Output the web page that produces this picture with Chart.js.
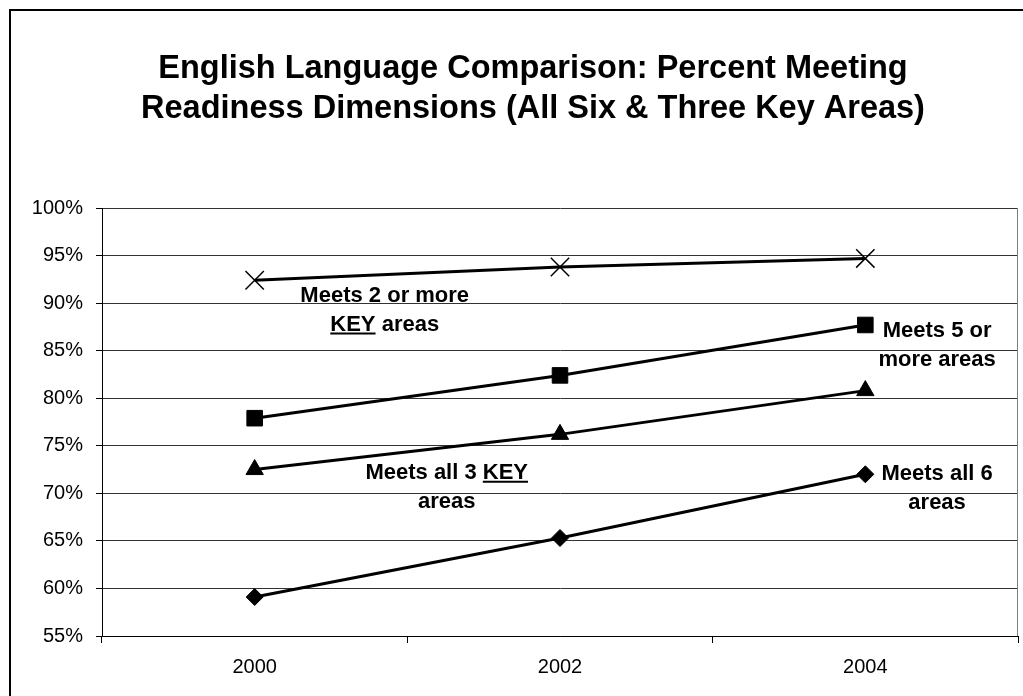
<!DOCTYPE html>
<html>
<head>
<meta charset="utf-8">
<script src="https://cdn.jsdelivr.net/npm/chart.js@4/dist/chart.umd.min.js"></script>
<style>
  body { margin: 0; background: #fff; }
  #wrap { width: 1023px; height: 696px; position: relative; }
</style>
</head>
<body>
<div id="wrap"><canvas id="myChart"></canvas></div>
<script>
const years = ["2000", "2002", "2004"];
const twoKeyAreas = [92.4, 93.8, 94.7];
const fiveAreas = [77.9, 82.4, 87.7];
const threeKeyAreas = [72.5, 76.2, 80.8];
const allSixAreas = [59.1, 65.3, 72.0];
const yMin = 55;
const yMax = 100;
const yStep = 5;

const titleLines = [
  "English Language Comparison: Percent Meeting",
  "Readiness Dimensions (All Six & Three Key Areas)",
];

const FONT = "'Liberation Sans', Arial, sans-serif";

// text labels placed next to the lines, anchored in scale units
const lineLabels = [
  { x: 0.426, y: 91.0, lines: ["Meets 2 or more", "KEY areas"], underline: "KEY" },
  { x: 2.235, y: 87.25, lines: ["Meets 5 or", "more areas"] },
  { x: 0.629, y: 72.37, lines: ["Meets all 3 KEY", "areas"], underline: "KEY" },
  { x: 2.235, y: 72.24, lines: ["Meets all 6", "areas"] },
];

const framePlugin = {
  id: "frame",
  beforeDraw(chart) {
    const ctx = chart.ctx;
    ctx.save();
    ctx.fillStyle = "#000";
    ctx.fillRect(9, 9, 2, chart.height);
    ctx.fillRect(9, 9, chart.width, 2);

    // two-line heading
    ctx.font = "bold 32.5px " + FONT;
    ctx.textAlign = "center";
    ctx.textBaseline = "middle";
    titleLines.forEach(function (t, i) {
      ctx.fillText(t, 533, 69 + i * 40);
    });
    ctx.restore();
  },
  afterDraw(chart) {
    const ctx = chart.ctx;
    const area = chart.chartArea;
    const xs = chart.scales.x;
    const ys = chart.scales.y;
    ctx.save();
    // right edge of the plot area
    ctx.strokeStyle = "#808080";
    ctx.lineWidth = 1;
    ctx.beginPath();
    ctx.moveTo(Math.round(area.right) - 0.5, area.top);
    ctx.lineTo(Math.round(area.right) - 0.5, area.bottom);
    ctx.stroke();

    ctx.font = "bold 22px " + FONT;
    ctx.fillStyle = "#000";
    ctx.strokeStyle = "#000";
    ctx.textAlign = "left";
    ctx.textBaseline = "alphabetic";
    lineLabels.forEach(function (lab) {
      const cx = xs.getPixelForValue(lab.x);
      const cy = ys.getPixelForValue(lab.y);
      lab.lines.forEach(function (text, i) {
        const w = ctx.measureText(text).width;
        const left = cx - w / 2;
        const base = cy + 8 + i * 29;
        ctx.fillText(text, left, base);
        if (lab.underline && text.indexOf(lab.underline) >= 0) {
          const pre = text.slice(0, text.indexOf(lab.underline));
          const ux = left + ctx.measureText(pre).width;
          const uw = ctx.measureText(lab.underline).width;
          ctx.lineWidth = 2;
          ctx.beginPath();
          ctx.moveTo(ux, base + 3);
          ctx.lineTo(ux + uw, base + 3);
          ctx.stroke();
        }
      });
    });
    ctx.restore();
  },
};

function series(data, style, radius, borderWidth) {
  return {
    data: data,
    borderColor: "#000",
    backgroundColor: "#000",
    borderWidth: 3,
    tension: 0,
    fill: false,
    pointStyle: style,
    pointRadius: radius,
    pointBorderWidth: borderWidth,
    pointBorderColor: "#000",
    pointBackgroundColor: "#000",
  };
}

new Chart(document.querySelector("#myChart"), {
  type: "line",
  data: {
    labels: years,
    datasets: [
      series(twoKeyAreas, "crossRot", 13, 1.5),
      series(fiveAreas, "rect", 11, 1),
      series(threeKeyAreas, "triangle", 10, 1),
      series(allSixAreas, "rectRot", 8.5, 1),
    ],
  },
  options: {
    responsive: true,
    maintainAspectRatio: false,
    animation: false,
    layout: { autoPadding: false, padding: { left: 0, right: 5, top: 208, bottom: 0 } },
    plugins: {
      legend: { display: false },
      tooltip: { enabled: false },
    },
    scales: {
      x: {
        offset: true,
        grid: {
          offset: true,
          drawOnChartArea: false,
          tickLength: 7,
          tickColor: "#000",
        },
        border: { color: "#000", width: 1 },
        ticks: { color: "#000", padding: 12, font: { family: FONT, size: 20 } },
        afterFit: function (scale) {
          scale.height = 60;
        },
      },
      y: {
        min: yMin,
        max: yMax,
        grid: { color: "#333", tickLength: 6, tickColor: "#000" },
        border: { color: "#000", width: 1 },
        ticks: {
          stepSize: yStep,
          color: "#000",
          padding: 13,
          font: { family: FONT, size: 20 },
          callback: function (v) {
            return v + "%";
          },
        },
        afterFit: function (scale) {
          scale.width = 102;
        },
      },
    },
  },
  plugins: [framePlugin],
});
</script>
</body>
</html>
